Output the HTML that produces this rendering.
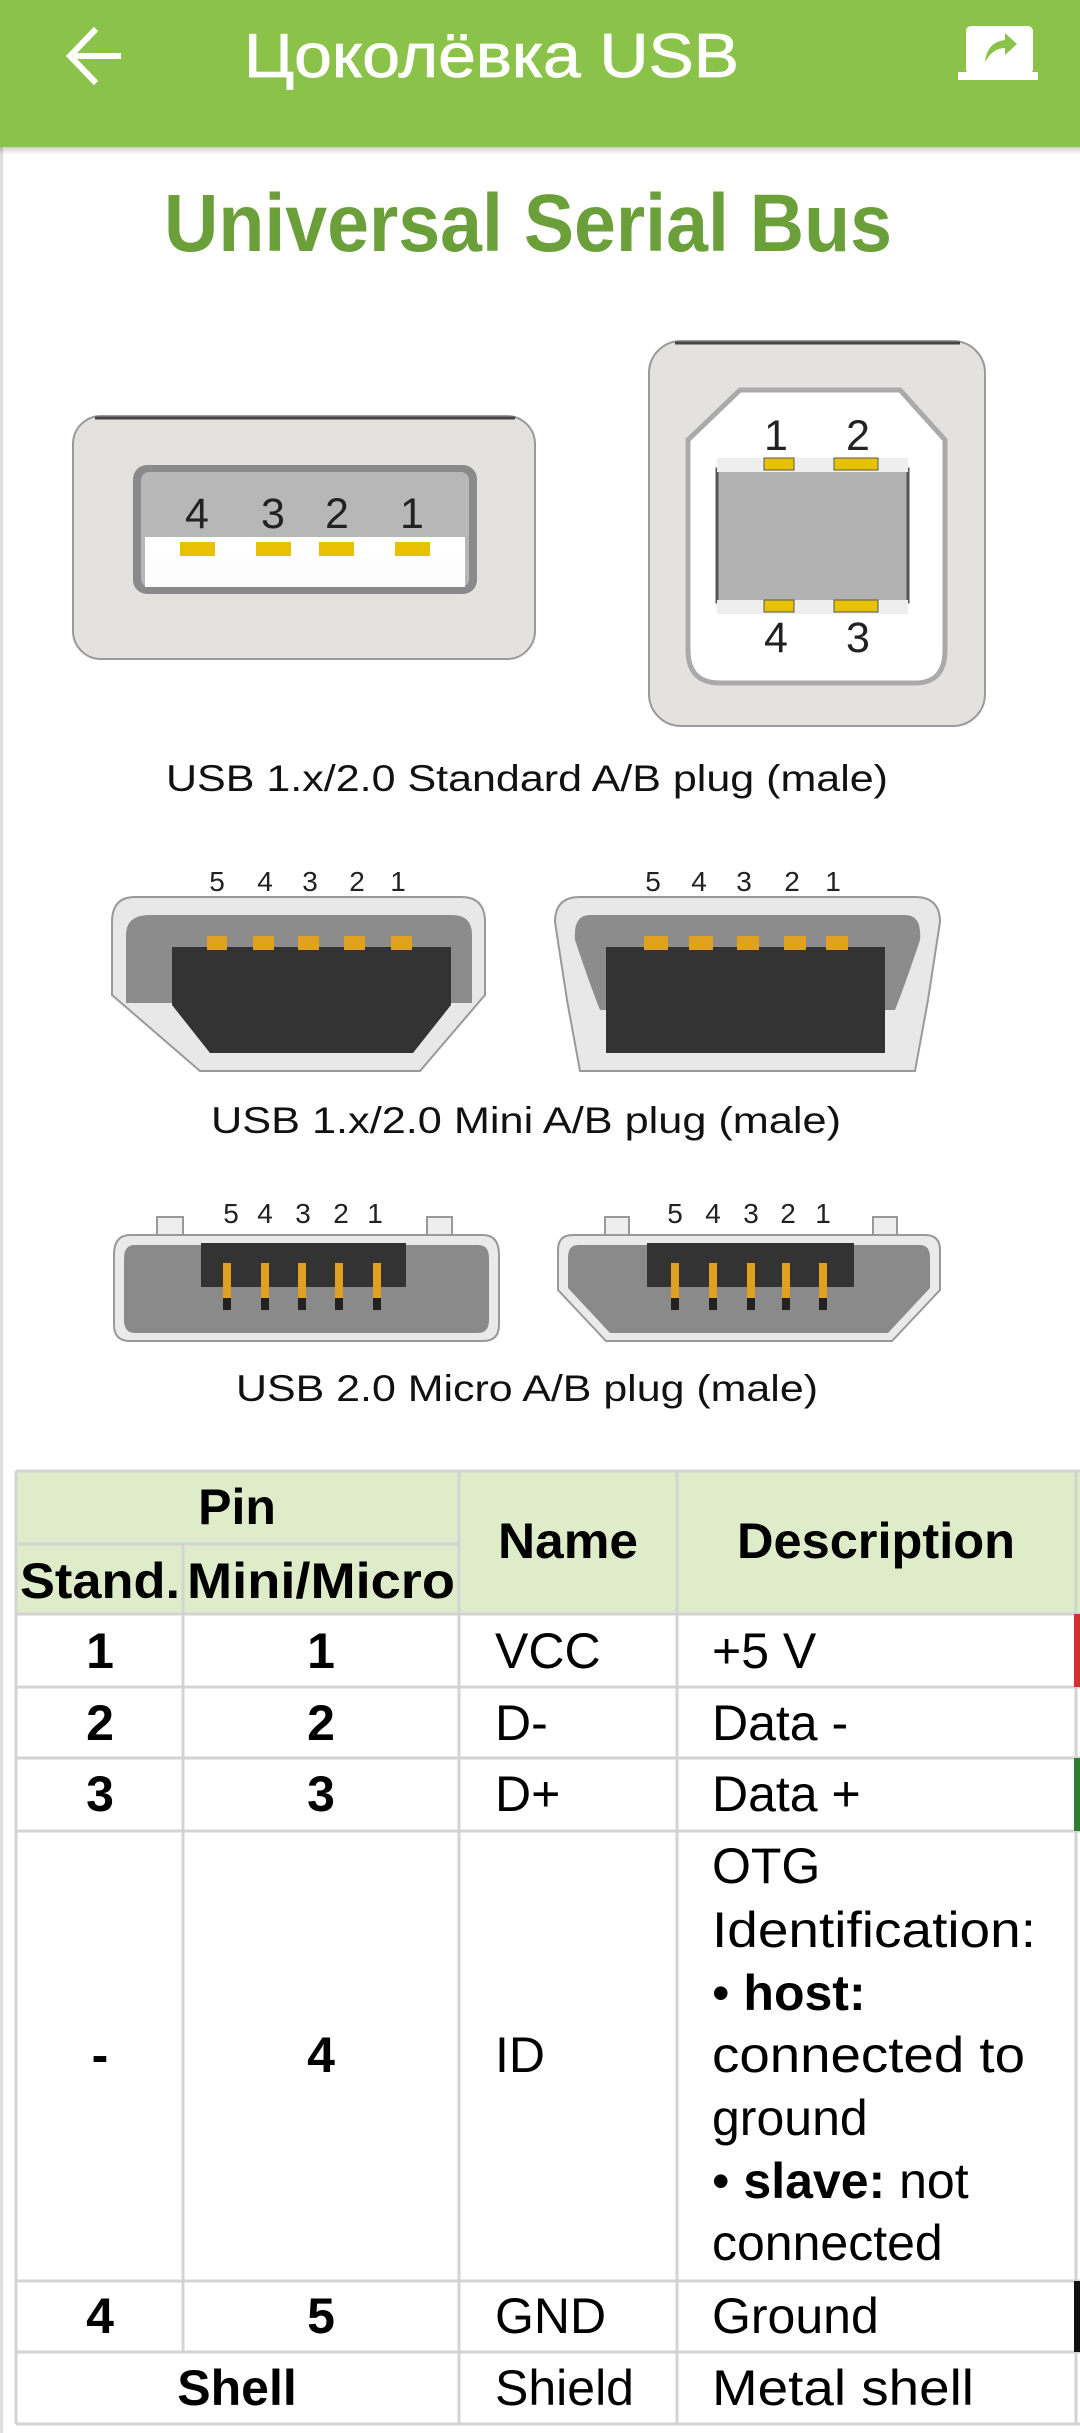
<!DOCTYPE html>
<html><head><meta charset="utf-8"><style>
html,body{margin:0;padding:0;background:#fff;}
svg{display:block;}
text{font-family:"Liberation Sans","Noto Sans CJK SC",sans-serif;}
</style></head><body>
<svg width="1080" height="2433" viewBox="0 0 1080 2433" xmlns="http://www.w3.org/2000/svg">
<defs>
<linearGradient id="sh" x1="0" y1="0" x2="0" y2="1"><stop offset="0" stop-color="#000" stop-opacity="0.18"/><stop offset="1" stop-color="#000" stop-opacity="0"/></linearGradient>
</defs>
<rect x="0" y="0" width="1080" height="2433" fill="#fff"/>
<rect x="0" y="147" width="3" height="2286" fill="#ddd"/>
<!-- header -->
<rect x="0" y="0" width="1080" height="147" fill="#8bc34a"/>
<rect x="0" y="147" width="1080" height="8" fill="url(#sh)"/>
<path d="M96 29 L70 56 L96 83 M70 56 L121 56" stroke="#fff" stroke-width="6" fill="none"/>
<text x="244" y="77" font-size="62" fill="#fff" stroke="#fff" stroke-width="0.8" textLength="495" lengthAdjust="spacingAndGlyphs">Цоколёвка USB</text>
<rect x="966" y="26" width="67" height="48" rx="5" fill="#fff"/>
<rect x="958" y="72" width="80" height="8" fill="#fff"/>
<path d="M985 62 Q987 42 1005 40 L1005 33 L1017 44 L1005 55 L1005 48 Q993 48 985 62Z" fill="#8bc34a"/>
<text x="164" y="251" font-size="82" font-weight="bold" fill="#6a9f3a" textLength="728" lengthAdjust="spacingAndGlyphs">Universal Serial Bus</text>

<!-- USB A -->
<rect x="73" y="416" width="462" height="243" rx="28" fill="#e4e2de" stroke="#9a9a9a" stroke-width="2"/>
<path d="M95 418 L515 418" stroke="#444" stroke-width="3"/>
<rect x="133" y="465" width="344" height="129" rx="14" fill="#8a8a8a"/>
<rect x="141" y="472" width="328" height="115" rx="8" fill="#b7b7b7"/>
<rect x="145" y="537" width="320" height="22" fill="#fff"/>
<rect x="145" y="559" width="320" height="28" fill="#fdfdfd"/>
<rect x="180" y="542" width="35" height="14" fill="#e8c200"/>
<rect x="256" y="542" width="35" height="14" fill="#e8c200"/>
<rect x="319" y="542" width="35" height="14" fill="#e8c200"/>
<rect x="395" y="542" width="35" height="14" fill="#e8c200"/>
<g font-size="43" fill="#222" text-anchor="middle"><text x="197" y="528">4</text><text x="273" y="528">3</text><text x="337" y="528">2</text><text x="412" y="528">1</text></g>

<!-- USB B -->
<rect x="649" y="341" width="336" height="385" rx="32" fill="#e4e2de" stroke="#9a9a9a" stroke-width="2"/>
<path d="M675 343 L960 343" stroke="#444" stroke-width="3"/>
<path d="M740 390 L900 390 L945 440 L945 650 Q945 683 915 683 L720 683 Q688 683 688 650 L688 440 Z" fill="#fff" stroke="#aaa" stroke-width="5"/>
<rect x="717" y="469" width="191" height="133" fill="#b2b2b2" stroke="#555" stroke-width="3"/>
<rect x="717" y="458" width="191" height="14" fill="#eee"/>
<rect x="717" y="600" width="191" height="14" fill="#eee"/>
<rect x="764" y="458" width="30" height="12" fill="#e8c200" stroke="#555" stroke-width="1"/>
<rect x="834" y="458" width="44" height="12" fill="#e8c200" stroke="#555" stroke-width="1"/>
<rect x="764" y="600" width="30" height="12" fill="#e8c200" stroke="#555" stroke-width="1"/>
<rect x="834" y="600" width="44" height="12" fill="#e8c200" stroke="#555" stroke-width="1"/>
<g font-size="43" fill="#222" text-anchor="middle"><text x="776" y="450">1</text><text x="858" y="450">2</text><text x="776" y="652">4</text><text x="858" y="652">3</text></g>

<text x="166" y="791" font-size="37" fill="#111" textLength="722" lengthAdjust="spacingAndGlyphs">USB 1.x/2.0 Standard A/B plug (male)</text>

<!-- Mini left -->
<path d="M135 897 L461 897 Q485 897 485 922 L485 995 L420 1071 L200 1071 L112 995 L112 922 Q112 897 135 897Z" fill="#e8e8e8" stroke="#999" stroke-width="2"/>
<path d="M150 915 L452 915 Q472 915 472 935 L472 1003 L126 1003 L126 935 Q126 915 150 915Z" fill="#8c8c8c"/>
<path d="M172 947 L451 947 L451 1005 L413 1053 L210 1053 L172 1005Z" fill="#333"/>
<g fill="#e0a020"><rect x="207" y="936" width="20" height="14"/><rect x="253" y="936" width="21" height="14"/><rect x="298" y="936" width="21" height="14"/><rect x="344" y="936" width="21" height="14"/><rect x="391" y="936" width="21" height="14"/></g>
<g font-size="28" fill="#222" text-anchor="middle"><text x="217" y="891">5</text><text x="265" y="891">4</text><text x="310" y="891">3</text><text x="357" y="891">2</text><text x="398" y="891">1</text></g>
<!-- Mini right -->
<path d="M580 897 L915 897 Q940 897 940 922 L928 1000 L915 1071 L580 1071 L567 1000 L555 922 Q555 897 580 897Z" fill="#e8e8e8" stroke="#999" stroke-width="2"/>
<path d="M590 915 Q573 915 575 940 Q590 985 600 1010 L895 1010 Q905 985 920 940 Q922 915 905 915Z" fill="#8c8c8c"/>
<rect x="606" y="947" width="279" height="106" fill="#333"/>
<g fill="#e0a020"><rect x="644" y="936" width="24" height="14"/><rect x="689" y="936" width="24" height="14"/><rect x="737" y="936" width="22" height="14"/><rect x="784" y="936" width="22" height="14"/><rect x="826" y="936" width="22" height="14"/></g>
<g font-size="28" fill="#222" text-anchor="middle"><text x="653" y="891">5</text><text x="699" y="891">4</text><text x="744" y="891">3</text><text x="792" y="891">2</text><text x="833" y="891">1</text></g>

<text x="211" y="1133" font-size="37" fill="#111" textLength="630" lengthAdjust="spacingAndGlyphs">USB 1.x/2.0 Mini A/B plug (male)</text>

<!-- Micro left -->
<rect x="157" y="1217" width="26" height="22" fill="#eee" stroke="#999" stroke-width="2"/>
<rect x="427" y="1217" width="25" height="22" fill="#eee" stroke="#999" stroke-width="2"/>
<path d="M130 1235 L483 1235 Q499 1235 499 1255 L499 1325 Q499 1341 483 1341 L130 1341 Q114 1341 114 1325 L114 1255 Q114 1235 130 1235Z" fill="#eaeaea" stroke="#999" stroke-width="2"/>
<path d="M135 1245 L478 1245 Q489 1245 489 1258 L489 1320 Q489 1333 478 1333 L135 1333 Q124 1333 124 1320 L124 1258 Q124 1245 135 1245Z" fill="#8a8a8a"/>
<rect x="201" y="1243" width="205" height="44" fill="#333"/>
<g fill="#e0a020"><rect x="223" y="1263" width="8" height="36"/><rect x="261" y="1263" width="8" height="36"/><rect x="298" y="1263" width="8" height="36"/><rect x="335" y="1263" width="8" height="36"/><rect x="373" y="1263" width="8" height="36"/></g>
<g fill="#222"><rect x="223" y="1298" width="8" height="12"/><rect x="261" y="1298" width="8" height="12"/><rect x="298" y="1298" width="8" height="12"/><rect x="335" y="1298" width="8" height="12"/><rect x="373" y="1298" width="8" height="12"/></g>
<g font-size="28" fill="#222" text-anchor="middle"><text x="231" y="1223">5</text><text x="265" y="1223">4</text><text x="303" y="1223">3</text><text x="341" y="1223">2</text><text x="375" y="1223">1</text></g>
<!-- Micro right -->
<rect x="605" y="1217" width="24" height="22" fill="#eee" stroke="#999" stroke-width="2"/>
<rect x="873" y="1217" width="24" height="22" fill="#eee" stroke="#999" stroke-width="2"/>
<path d="M573 1235 L925 1235 Q940 1235 940 1250 L940 1290 L892 1341 L606 1341 L558 1290 L558 1250 Q558 1235 573 1235Z" fill="#eaeaea" stroke="#999" stroke-width="2"/>
<path d="M578 1245 L920 1245 Q930 1245 930 1258 L930 1288 L888 1333 L610 1333 L568 1288 L568 1258 Q568 1245 578 1245Z" fill="#8a8a8a"/>
<rect x="647" y="1243" width="207" height="44" fill="#333"/>
<g fill="#e0a020"><rect x="671" y="1263" width="8" height="36"/><rect x="709" y="1263" width="8" height="36"/><rect x="747" y="1263" width="8" height="36"/><rect x="782" y="1263" width="8" height="36"/><rect x="819" y="1263" width="8" height="36"/></g>
<g fill="#222"><rect x="671" y="1298" width="8" height="12"/><rect x="709" y="1298" width="8" height="12"/><rect x="747" y="1298" width="8" height="12"/><rect x="782" y="1298" width="8" height="12"/><rect x="819" y="1298" width="8" height="12"/></g>
<g font-size="28" fill="#222" text-anchor="middle"><text x="675" y="1223">5</text><text x="713" y="1223">4</text><text x="751" y="1223">3</text><text x="788" y="1223">2</text><text x="823" y="1223">1</text></g>

<text x="236" y="1401" font-size="37" fill="#111" textLength="582" lengthAdjust="spacingAndGlyphs">USB 2.0 Micro A/B plug (male)</text>

<!-- table -->
<rect x="16" y="1471" width="1064" height="143" fill="#deecca"/>
<g stroke="#d3d3d3" stroke-width="3" fill="none">
<line x1="16" y1="1471" x2="1080" y2="1471"/>
<line x1="16" y1="1544" x2="459" y2="1544"/>
<line x1="16" y1="1614" x2="1080" y2="1614"/>
<line x1="16" y1="1687" x2="1080" y2="1687"/>
<line x1="16" y1="1758" x2="1080" y2="1758"/>
<line x1="16" y1="1831" x2="1080" y2="1831"/>
<line x1="16" y1="2281" x2="1080" y2="2281"/>
<line x1="16" y1="2352" x2="1080" y2="2352"/>
<line x1="16" y1="2424" x2="1080" y2="2424"/>
<line x1="16" y1="1471" x2="16" y2="2424"/>
<line x1="183" y1="1544" x2="183" y2="2352"/>
<line x1="459" y1="1471" x2="459" y2="2424"/>
<line x1="677" y1="1471" x2="677" y2="2424"/>
<line x1="1076" y1="1471" x2="1076" y2="2424"/>
</g>
<rect x="1074" y="1614" width="6" height="73" fill="#d32f2f"/>
<rect x="1074" y="1758" width="6" height="73" fill="#2e7d32"/>
<rect x="1074" y="2281" width="6" height="71" fill="#111"/>
<g font-size="50" fill="#000">
<g font-weight="bold" text-anchor="middle">
<text x="237" y="1524">Pin</text>
<text x="100" y="1598" textLength="160" lengthAdjust="spacingAndGlyphs">Stand.</text>
<text x="321" y="1598" textLength="268" lengthAdjust="spacingAndGlyphs">Mini/Micro</text>
<text x="568" y="1558" textLength="140" lengthAdjust="spacingAndGlyphs">Name</text>
<text x="876" y="1558" textLength="278" lengthAdjust="spacingAndGlyphs">Description</text>
<text x="100" y="1668">1</text><text x="321" y="1668">1</text>
<text x="100" y="1740">2</text><text x="321" y="1740">2</text>
<text x="100" y="1811">3</text><text x="321" y="1811">3</text>
<text x="100" y="2072">-</text><text x="321" y="2072">4</text>
<text x="100" y="2333">4</text><text x="321" y="2333">5</text>
<text x="237" y="2405">Shell</text>
</g>
<text x="495" y="1668">VCC</text><text x="712" y="1668">+5 V</text>
<text x="495" y="1740">D-</text><text x="712" y="1740">Data -</text>
<text x="495" y="1811">D+</text><text x="712" y="1811">Data +</text>
<text x="495" y="2072">ID</text>
<text x="712" y="1883">OTG</text>
<text x="712" y="1947" textLength="324" lengthAdjust="spacingAndGlyphs">Identification:</text>
<text x="712" y="2010">• <tspan font-weight="bold">host:</tspan></text>
<text x="712" y="2072" textLength="313" lengthAdjust="spacingAndGlyphs">connected to</text>
<text x="712" y="2135">ground</text>
<text x="712" y="2198">• <tspan font-weight="bold">slave:</tspan> not</text>
<text x="712" y="2260">connected</text>
<text x="495" y="2333">GND</text><text x="712" y="2333">Ground</text>
<text x="495" y="2405">Shield</text><text x="712" y="2405" textLength="262" lengthAdjust="spacingAndGlyphs">Metal shell</text>
</g>
</svg>
</body></html>
